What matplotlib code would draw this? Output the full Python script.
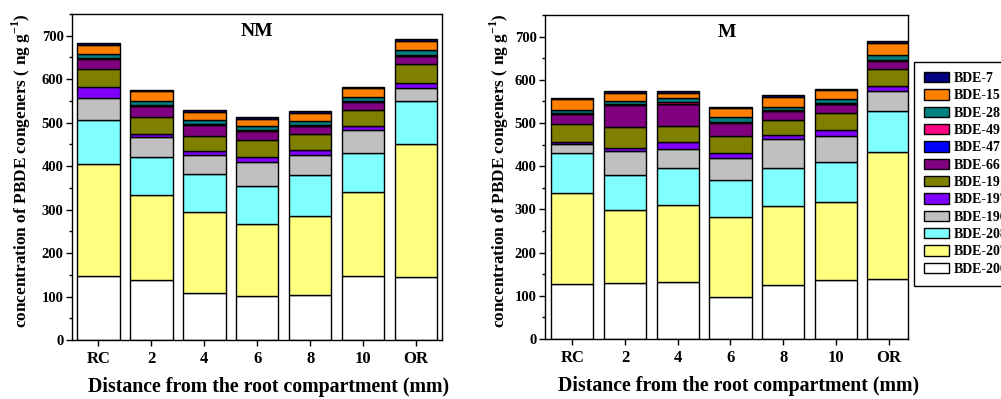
import numpy as np
import matplotlib
matplotlib.use('Agg')
import matplotlib.pyplot as plt
from matplotlib.ticker import MultipleLocator

plt.rcParams['font.family'] = ['Liberation Serif', 'DejaVu Serif']
plt.rcParams['font.weight'] = 'bold'
plt.rcParams['mathtext.fontset'] = 'custom'
plt.rcParams['mathtext.rm'] = 'Liberation Serif:bold'
plt.rcParams['mathtext.bf'] = 'Liberation Serif:bold'

# Categories (distance from root compartment)
categories = ['RC', '2', '4', '6', '8', '10', 'OR']

# congeners, stacked from bottom to top
congeners = ['BDE-206', 'BDE-207', 'BDE-208', 'BDE-196', 'BDE-197', 'BDE-191',
             'BDE-66', 'BDE-47', 'BDE-49', 'BDE-28', 'BDE-15', 'BDE-7']
colors = ['#FFFFFF', '#FFFF80', '#80FFFF', '#C0C0C0', '#8000FF', '#808000',
          '#800080', '#0000FF', '#FF0080', '#008080', '#FF8000', '#000080']

# NM panel, ng/g, one list per congener (RC, 2, 4, 6, 8, 10, OR)
nm_206 = [148, 139, 109, 102, 104, 147, 146]
nm_207 = [258, 194, 185, 165, 182, 193, 305]
nm_208 = [99, 87, 87, 88, 93, 91, 99]
nm_196 = [52, 48, 45, 54, 47, 53, 29]
nm_197 = [24, 6, 8, 13, 10, 8, 13]
nm_191 = [43, 40, 36, 38, 38, 38, 43]
nm_66 = [23, 24, 25, 20, 18, 18, 18]
nm_47 = [1, 1, 1, 1, 1, 1, 1]
nm_49 = [1, 1, 1, 1, 1, 1, 1]
nm_28 = [10, 10, 10, 10, 9, 10, 13]
nm_15 = [19, 22, 18, 17, 20, 20, 21]
nm_7 = [5, 3, 4, 3, 3, 3, 4]

# M panel
m_206 = [128, 129, 132, 97, 125, 137, 140]
m_207 = [211, 169, 179, 185, 182, 179, 292]
m_208 = [91, 82, 85, 86, 89, 93, 95]
m_196 = [22, 55, 44, 51, 68, 60, 46]
m_197 = [5, 8, 15, 11, 8, 14, 13]
m_191 = [40, 47, 39, 41, 35, 41, 40]
m_66 = [23, 52, 49, 30, 20, 20, 18]
m_47 = [1, 1, 2, 1, 1, 1, 1]
m_49 = [1, 1, 3, 1, 1, 1, 1]
m_28 = [8, 8, 11, 10, 9, 10, 11]
m_15 = [25, 17, 11, 21, 23, 20, 28]
m_7 = [3, 4, 4, 3, 3, 3, 5]

nm_data = [nm_206, nm_207, nm_208, nm_196, nm_197, nm_191,
           nm_66, nm_47, nm_49, nm_28, nm_15, nm_7]
m_data = [m_206, m_207, m_208, m_196, m_197, m_191,
          m_66, m_47, m_49, m_28, m_15, m_7]

fig = plt.figure(figsize=(10.01, 3.99), dpi=100)
ax1 = fig.add_axes([72 / 1001, 59 / 399, 370 / 1001, 326 / 399])
ax2 = fig.add_axes([545 / 1001, 60 / 399, 363 / 1001, 324 / 399])

x = np.arange(len(categories))
handles = []
for ax, data, title in [(ax1, nm_data, 'NM'), (ax2, m_data, 'M')]:
    bottom = np.zeros(len(categories))
    hs = []
    for vals, col, lab in zip(data, colors, congeners):
        h = ax.bar(x, vals, 0.8, bottom=bottom, color=col, edgecolor='black',
                   linewidth=1.0, label=lab)
        bottom += np.array(vals)
        hs.append(h)
    handles = hs
    ax.set_ylim(0, 750)
    ax.yaxis.set_major_locator(MultipleLocator(100))
    ax.yaxis.set_minor_locator(MultipleLocator(50))
    ax.set_xticks(x)
    ax.set_xticklabels(categories, fontsize=12, fontweight='bold')
    ax.tick_params(axis='y', which='major', direction='out', length=4, width=1,
                   labelsize=10.5, pad=2)
    ax.tick_params(axis='y', which='minor', direction='out', length=2, width=1)
    ax.tick_params(axis='x', direction='out', length=4, width=1, pad=4)
    for lbl in ax.get_yticklabels():
        lbl.set_fontweight('bold')
    for s in ax.spines.values():
        s.set_linewidth(1.0)
    ax.text(0.5, 0.946, title, transform=ax.transAxes, ha='center', va='center',
            fontsize=14, fontweight='bold')
    ax.set_xlabel('Distance from the root compartment (mm)', fontsize=14.3,
                  fontweight='bold')
    ax.set_ylabel(r'concentration of PBDE congeners ( ng g$^{-1}$)',
                  fontsize=12.4, fontweight='bold')
    ax.xaxis.set_label_coords(0.5 + 12 / 370, -0.115)

ax1.set_xlim(-0.5, 6.49)
ax2.set_xlim(-0.52, 6.37)
ax1.yaxis.set_label_coords(-0.106, 0.52)
ax2.yaxis.set_label_coords(-0.094, 0.52)

# legend, top to bottom BDE-7 ... BDE-206 (clipped at right edge like the original)
fig.legend(handles[::-1], congeners[::-1], loc='upper left',
           bbox_to_anchor=(914 / 1001, 1 - 61.7 / 399), fancybox=False,
           edgecolor='black', framealpha=1, prop={'size': 10, 'weight': 'bold'},
           handlelength=1.8, handleheight=0.77, labelspacing=0.31,
           borderpad=0.75, borderaxespad=0, handletextpad=0.34)

plt.savefig('out.png', dpi=100)
